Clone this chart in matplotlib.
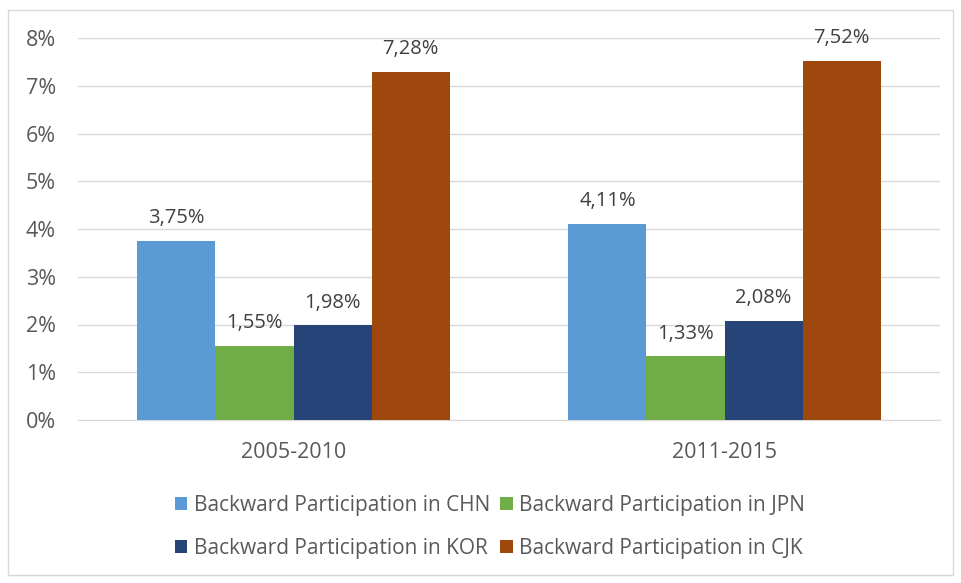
import matplotlib
matplotlib.use("Agg")
import matplotlib.pyplot as plt
import numpy as np
from matplotlib.patches import Rectangle

periods = ["2005-2010", "2011-2015"]
series_names = ["Backward Participation in CHN", "Backward Participation in JPN",
                "Backward Participation in KOR", "Backward Participation in CJK"]
chn = [3.75, 4.11]
jpn = [1.55, 1.33]
kor = [1.98, 2.08]
cjk = [7.28, 7.52]
yticks = [0, 1, 2, 3, 4, 5, 6, 7, 8]

colors = ["#5B9BD5", "#70AD47", "#264478", "#9E480E"]

plt.rcParams['font.family'] = ['Open Sans', 'DejaVu Sans']

fig = plt.figure(figsize=(9.61, 5.83), dpi=100)
ax = fig.add_axes([78/961, 1-420/583, (940-78)/961, (420-38)/583])

x = np.arange(len(periods))
w = 0.181
data = [chn, jpn, kor, cjk]
handles = []
for i, (vals, c, name) in enumerate(zip(data, colors, series_names)):
    pos = x + (i - 1.5) * w
    bars = ax.bar(pos, vals, width=w, color=c, label=name, zorder=3)
    handles.append(bars)
    for xp, v in zip(pos, vals):
        ax.text(xp, v + 0.27, f"{v:.2f}".replace(".", ",") + "%", ha="center", va="bottom",
                fontsize=14.5, color="#404040", zorder=4)

ax.set_xlim(-0.5, 1.5)
ax.set_ylim(0, 8)
ax.set_yticks(yticks)
ax.set_yticklabels([f"{t}%" for t in yticks], fontsize=15.5, color="#595959")
ax.set_xticks(x)
ax.set_xticklabels(periods, fontsize=15.5, color="#595959")
ax.tick_params(axis="y", length=0, pad=16)
ax.tick_params(axis="x", length=0, pad=16)
ax.grid(axis="y", color="#D9D9D9", linewidth=1, zorder=0)
for s in ["top", "right", "left"]:
    ax.spines[s].set_visible(False)
ax.spines["bottom"].set_color("#D9D9D9")

order = [0, 2, 1, 3]
fig.legend([handles[i] for i in order], [series_names[i] for i in order],
           loc="center", bbox_to_anchor=(490/961, 1-527/583), ncol=2, frameon=False,
           fontsize=15, handlelength=0.6, handleheight=0.6, handletextpad=0.3,
           columnspacing=0.5, labelspacing=1.05, labelcolor="#595959")

fig.patches.append(Rectangle((8/961, 1-575/583), 945/961, 565/583, transform=fig.transFigure,
                             fill=False, edgecolor="#D9D9D9", linewidth=1))

fig.savefig("out.png", dpi=100)
